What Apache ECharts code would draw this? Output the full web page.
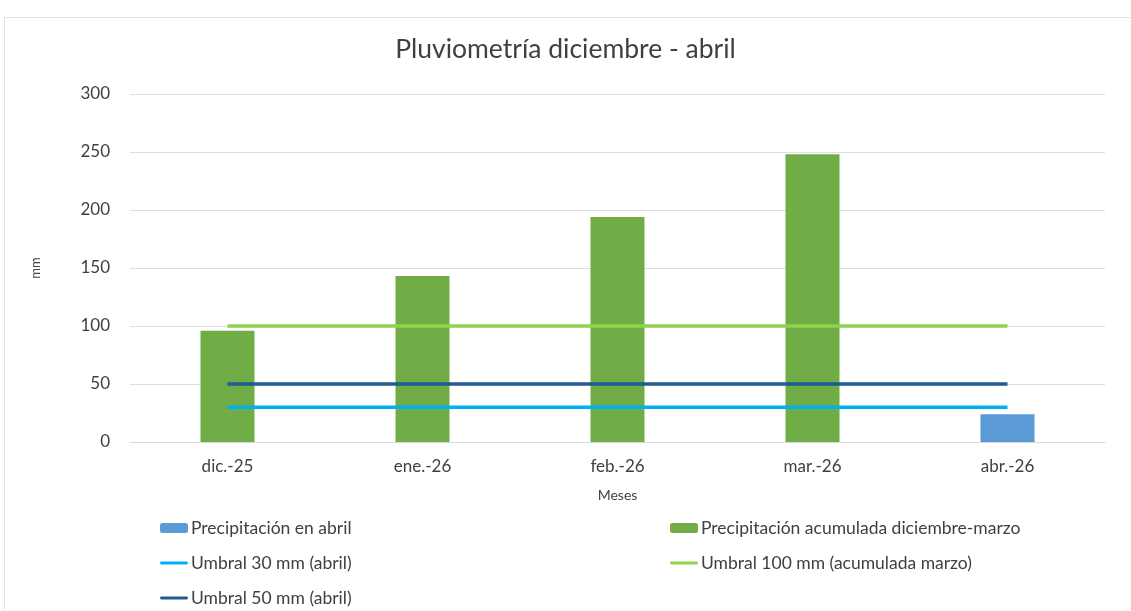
<!DOCTYPE html>
<html><head><meta charset="utf-8">
<script src="https://cdn.jsdelivr.net/npm/echarts@6/dist/echarts.min.js"></script>
<style>
html,body{margin:0;padding:0;background:#fff;}
#frame{position:absolute;left:4px;top:17px;width:1140px;height:620px;border:1px solid #e3e3e3;box-sizing:border-box;}
#chart{position:absolute;left:0;top:0;width:1131px;height:611px;}
</style></head>
<body><div id="frame"></div><div id="chart"></div>
<script>
const categories = ['dic.-25','ene.-26','feb.-26','mar.-26','abr.-26'];
const precipAbril = ['-','-','-','-',24];
const precipAcum = [96,143,194,248,'-'];
const umbral30 = [30,30,30,30,30];
const umbral100 = [100,100,100,100,100];
const umbral50 = [50,50,50,50,50];

const chart = echarts.init(document.getElementById('chart'));
const font = 'Lato, "Open Sans", sans-serif';
const txt = '#404040';
const lineIcon = 'path://M1,0 L27,0 A1.5,1.5 0 0 1 27,3 L1,3 A1.5,1.5 0 0 1 1,0 Z';
const legText = {fontSize:17.5,color:txt,fontFamily:font,padding:[0,0,0,-2],lineHeight:20};
chart.setOption({
  animation:false,
  textStyle:{fontFamily:font},
  title:{text:'Pluviometría diciembre - abril',left:'center',top:31,textStyle:{fontFamily:font,fontSize:26.5,fontWeight:'normal',color:txt}},
  grid:{left:130,right:26,top:94,bottom:169},
  xAxis:{type:'category',data:categories,name:'Meses',nameLocation:'middle',nameGap:46,
    nameTextStyle:{fontSize:14,color:txt,fontFamily:font},
    axisLine:{lineStyle:{color:'#d9d9d9'}},axisTick:{show:false},
    axisLabel:{fontSize:17,color:txt,margin:16,fontFamily:font}},
  yAxis:{type:'value',min:0,max:300,interval:50,name:'mm',nameLocation:'middle',nameGap:88,nameRotate:90,
    nameTextStyle:{fontSize:13,color:txt,fontFamily:font},
    axisLine:{show:false},axisTick:{show:false},
    axisLabel:{fontSize:17,color:txt,margin:20,fontFamily:font}},
  legend:[
    {left:160,top:518,height:93,padding:0,orient:'vertical',itemGap:15,itemWidth:28,itemHeight:10,textStyle:legText,
     data:[{name:'Precipitación en abril'},{name:'Umbral 30 mm (abril)',icon:lineIcon},{name:'Umbral 50 mm (abril)',icon:lineIcon}]},
    {left:670,top:518,height:93,padding:0,orient:'vertical',itemGap:15,itemWidth:28,itemHeight:10,textStyle:legText,
     data:[{name:'Precipitación acumulada diciembre-marzo'},{name:'Umbral 100 mm (acumulada marzo)',icon:lineIcon}]}
  ],
  series:[
    {name:'Precipitación en abril',type:'bar',data:precipAbril,barWidth:54,barGap:'-100%',itemStyle:{color:'#5B9BD5'}},
    {name:'Precipitación acumulada diciembre-marzo',type:'bar',data:precipAcum,barWidth:54,barGap:'-100%',itemStyle:{color:'#70AD47'}},
    {name:'Umbral 30 mm (abril)',type:'line',data:umbral30,symbol:'none',lineStyle:{color:'#00B0F0',width:3.5},itemStyle:{color:'#00B0F0'}},
    {name:'Umbral 100 mm (acumulada marzo)',type:'line',data:umbral100,symbol:'none',lineStyle:{color:'#92D050',width:3.5},itemStyle:{color:'#92D050'}},
    {name:'Umbral 50 mm (abril)',type:'line',data:umbral50,symbol:'none',lineStyle:{color:'#1F5A91',width:3.5},itemStyle:{color:'#1F5A91'}}
  ]
});
</script></body></html>
